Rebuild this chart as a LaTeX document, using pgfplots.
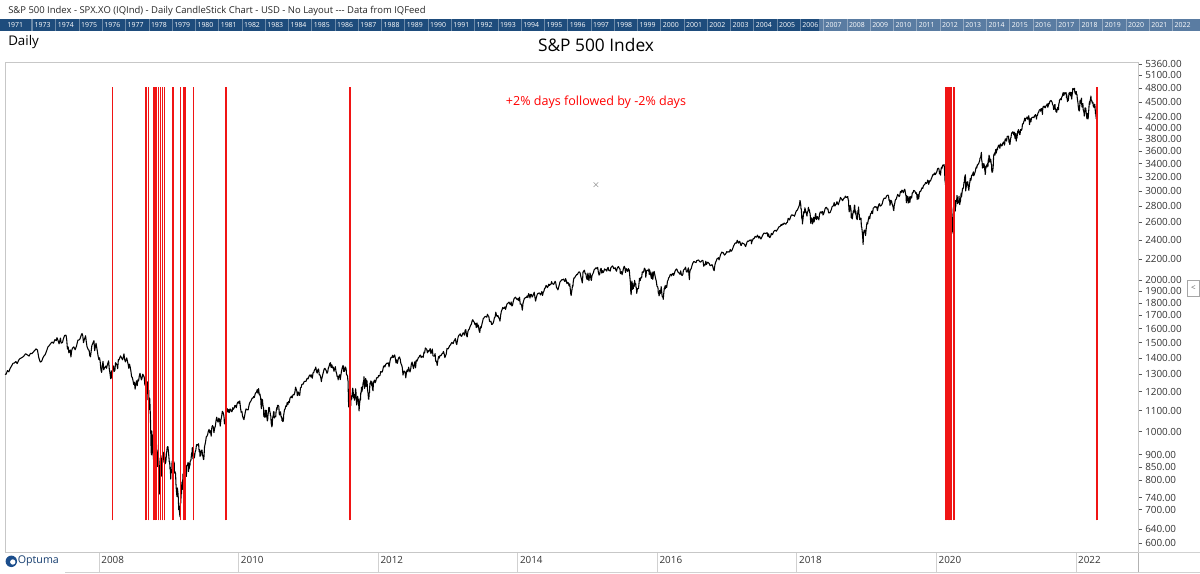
\documentclass[border=0pt]{standalone}
\usepackage{pgfplots}
\pgfplotsset{compat=1.18}
\usepackage{pgfplotstable}
\usepackage{fontspec}
\setmainfont{Open Sans}
\definecolor{banddark}{RGB}{30,76,124}
\definecolor{bandlight}{RGB}{90,124,162}
\definecolor{optblue}{RGB}{28,78,140}
\definecolor{sigred}{RGB}{240,20,20}

\pgfplotstableread{
x y
2006.675 1300
2006.69 1299
2006.71 1321
2006.73 1314
2006.75 1336
2006.77 1350
2006.79 1366
2006.81 1368
2006.83 1377
2006.85 1364
2006.87 1385
2006.89 1396
2006.91 1400
2006.94 1409
2006.97 1427
2007.00 1418
2007.02 1412
2007.04 1430
2007.06 1427
2007.08 1438
2007.10 1448
2007.12 1459
2007.14 1451
2007.16 1400
2007.18 1374
2007.20 1378
2007.22 1402
2007.24 1417
2007.25 1420
2007.27 1444
2007.29 1471
2007.31 1482
2007.33 1495
2007.35 1505
2007.37 1497
2007.39 1522
2007.41 1515
2007.42 1536
2007.44 1509
2007.45 1493
2007.47 1533
2007.48 1498
2007.50 1503
2007.51 1525
2007.53 1552
2007.55 1553
2007.56 1519
2007.57 1458
2007.58 1473
2007.59 1433
2007.61 1452
2007.62 1406
2007.63 1445
2007.64 1462
2007.66 1473
2007.68 1453
2007.70 1478
2007.72 1519
2007.73 1518
2007.75 1527
2007.77 1557
2007.78 1565
2007.79 1548
2007.80 1501
2007.81 1520
2007.83 1549
2007.84 1508
2007.85 1475
2007.87 1452
2007.88 1451
2007.89 1416
2007.90 1407
2007.92 1481
2007.94 1504
2007.95 1515
2007.96 1447
2007.98 1497
2007.99 1468
2008.01 1411
2008.02 1390
2008.03 1401
2008.04 1373
2008.05 1325
2008.06 1310
2008.07 1352
2008.08 1378
2008.09 1326
2008.10 1336
2008.12 1349
2008.13 1335
2008.14 1353
2008.16 1381
2008.17 1330
2008.18 1304
2008.19 1273
2008.20 1320
2008.21 1277
2008.22 1330
2008.23 1350
2008.24 1316
2008.25 1322
2008.26 1370
2008.28 1355
2008.29 1333
2008.30 1390
2008.31 1388
2008.33 1413
2008.35 1397
2008.36 1388
2008.37 1404
2008.38 1426
2008.39 1391
2008.40 1375
2008.42 1400
2008.43 1378
2008.44 1360
2008.45 1335
2008.46 1360
2008.47 1342
2008.48 1317
2008.49 1284
2008.50 1280
2008.51 1262
2008.52 1240
2008.53 1253
2008.54 1214
2008.55 1240
2008.56 1261
2008.57 1234
2008.58 1267
2008.59 1260
2008.60 1289
2008.61 1305
2008.62 1285
2008.63 1266
2008.64 1278
2008.65 1300
2008.67 1283
2008.68 1236
2008.69 1267
2008.70 1192
2008.71 1156
2008.72 1255
2008.73 1188
2008.735 1209
2008.74 1106
2008.745 1166
2008.75 1161
2008.755 1114
2008.76 1056
2008.765 985
2008.77 910
2008.775 899
2008.78 1003
2008.785 946
2008.79 907
2008.795 985
2008.80 896
2008.805 877
2008.81 848
2008.815 940
2008.82 954
2008.83 968
2008.835 966
2008.84 1005
2008.845 952
2008.85 905
2008.855 919
2008.86 852
2008.87 911
2008.875 873
2008.88 850
2008.885 806
2008.89 752
2008.895 800
2008.90 887
2008.905 870
2008.91 896
2008.92 816
2008.925 848
2008.93 876
2008.94 909
2008.945 888
2008.95 880
2008.955 869
2008.96 913
2008.965 885
2008.97 863
2008.98 870
2008.99 903
2009.00 931
2009.01 934
2009.02 906
2009.03 870
2009.035 872
2009.04 843
2009.045 850
2009.05 805
2009.055 840
2009.06 828
2009.065 831
2009.07 874
2009.075 845
2009.08 825
2009.09 838
2009.095 869
2009.10 870
2009.105 827
2009.11 833
2009.12 826
2009.125 789
2009.13 770
2009.135 754
2009.14 743
2009.145 773
2009.15 764
2009.155 753
2009.16 735
2009.165 700
2009.17 712
2009.175 696
2009.18 683
2009.185 677
2009.19 720
2009.195 722
2009.20 756
2009.205 753
2009.21 794
2009.215 784
2009.22 768
2009.225 823
2009.23 806
2009.235 832
2009.24 816
2009.245 788
2009.25 811
2009.255 834
2009.26 842
2009.27 835
2009.275 815
2009.28 857
2009.29 858
2009.30 869
2009.305 833
2009.31 851
2009.315 843
2009.32 866
2009.325 855
2009.33 873
2009.34 877
2009.35 907
2009.355 903
2009.36 930
2009.365 897
2009.37 883
2009.375 893
2009.38 904
2009.385 888
2009.39 887
2009.40 910
2009.41 919
2009.42 942
2009.43 943
2009.44 939
2009.45 946
2009.455 923
2009.46 911
2009.465 921
2009.47 893
2009.48 900
2009.49 918
2009.50 919
2009.505 896
2009.51 898
2009.52 880
2009.525 882
2009.53 905
2009.535 932
2009.54 940
2009.55 954
2009.56 976
2009.57 979
2009.58 987
2009.59 1002
2009.60 1010
2009.61 994
2009.62 1004
2009.63 979
2009.64 1020
2009.65 1028
2009.66 1021
2009.67 995
2009.68 1016
2009.69 1025
2009.70 1052
2009.71 1068
2009.72 1050
2009.73 1044
2009.74 1063
2009.75 1057
2009.76 1025
2009.77 1054
2009.78 1071
2009.79 1097
2009.80 1092
2009.81 1079
2009.815 1066
2009.82 1036
2009.83 1046
2009.84 1069
2009.85 1093
2009.86 1110
2009.87 1094
2009.88 1106
2009.885 1091
2009.89 1091
2009.90 1109
2009.91 1106
2009.92 1095
2009.93 1096
2009.94 1115
2009.95 1107
2009.96 1114
2009.97 1127
2009.98 1126
2009.99 1115
2010.00 1133
2010.01 1142
2010.02 1146
2010.03 1137
2010.04 1150
2010.05 1116
2010.06 1092
2010.07 1097
2010.08 1074
2010.09 1063
2010.10 1056
2010.11 1075
2010.12 1094
2010.13 1109
2010.14 1106
2010.16 1104
2010.17 1123
2010.18 1138
2010.19 1145
2010.20 1150
2010.21 1159
2010.22 1166
2010.23 1165
2010.24 1174
2010.25 1169
2010.26 1187
2010.27 1194
2010.28 1197
2010.29 1211
2010.30 1192
2010.31 1217
2010.32 1183
2010.33 1187
2010.335 1173
2010.34 1166
2010.345 1128
2010.35 1110
2010.355 1160
2010.36 1155
2010.365 1157
2010.37 1136
2010.375 1121
2010.38 1115
2010.385 1071
2010.39 1087
2010.395 1074
2010.40 1067
2010.405 1103
2010.41 1089
2010.415 1070
2010.42 1102
2010.43 1065
2010.435 1050
2010.44 1055
2010.445 1079
2010.45 1092
2010.455 1115
2010.46 1117
2010.465 1114
2010.47 1096
2010.475 1092
2010.48 1076
2010.485 1074
2010.49 1041
2010.495 1031
2010.50 1022
2010.505 1028
2010.51 1060
2010.515 1070
2010.52 1078
2010.525 1095
2010.53 1095
2010.535 1064
2010.54 1071
2010.55 1071
2010.555 1069
2010.56 1094
2010.565 1102
2010.57 1115
2010.575 1106
2010.58 1126
2010.59 1128
2010.60 1122
2010.605 1089
2010.61 1079
2010.615 1083
2010.62 1093
2010.625 1094
2010.63 1075
2010.635 1067
2010.64 1071
2010.645 1051
2010.65 1055
2010.655 1047
2010.66 1064
2010.665 1049
2010.67 1080
2010.675 1090
2010.68 1104
2010.69 1109
2010.70 1125
2010.71 1122
2010.72 1142
2010.73 1131
2010.74 1148
2010.75 1141
2010.76 1165
2010.77 1169
2010.78 1176
2010.79 1166
2010.80 1180
2010.81 1185
2010.82 1183
2010.83 1197
2010.84 1225
2010.85 1213
2010.86 1199
2010.865 1178
2010.87 1196
2010.88 1198
2010.89 1180
2010.90 1181
2010.91 1221
2010.92 1223
2010.93 1240
2010.94 1242
2010.95 1242
2010.96 1254
2010.97 1258
2010.99 1258
2011.00 1271
2011.01 1276
2011.02 1272
2011.03 1285
2011.04 1293
2011.05 1295
2011.06 1283
2011.07 1296
2011.08 1276
2011.09 1307
2011.10 1310
2011.11 1324
2011.12 1329
2011.13 1343
2011.14 1315
2011.15 1306
2011.16 1327
2011.17 1331
2011.18 1295
2011.19 1296
2011.20 1281
2011.21 1256
2011.215 1273
2011.22 1279
2011.23 1298
2011.24 1314
2011.25 1332
2011.26 1335
2011.27 1328
2011.28 1320
2011.29 1305
2011.30 1312
2011.31 1337
2011.32 1347
2011.33 1364
2011.34 1370
2011.345 1347
2011.35 1340
2011.36 1357
2011.37 1338
2011.38 1343
2011.39 1317
2011.40 1331
2011.41 1345
2011.42 1315
2011.43 1300
2011.435 1286
2011.44 1285
2011.445 1288
2011.45 1266
2011.455 1278
2011.46 1283
2011.47 1296
2011.475 1288
2011.48 1268
2011.49 1296
2011.50 1321
2011.51 1340
2011.52 1353
2011.525 1344
2011.53 1316
2011.54 1317
2011.545 1327
2011.55 1344
2011.56 1338
2011.565 1331
2011.57 1300
2011.58 1292
2011.585 1287
2011.59 1260
2011.593 1261
2011.595 1200
2011.597 1199
2011.60 1119
2011.603 1172
2011.607 1120
2011.61 1172
2011.613 1179
2011.617 1204
2011.62 1193
2011.625 1140
2011.63 1124
2011.635 1162
2011.64 1177
2011.645 1160
2011.65 1176
2011.655 1210
2011.66 1219
2011.665 1204
2011.67 1174
2011.675 1165
2011.68 1185
2011.685 1154
2011.69 1162
2011.695 1172
2011.70 1216
2011.705 1202
2011.71 1166
2011.715 1129
2011.72 1136
2011.725 1162
2011.73 1175
2011.735 1151
2011.74 1160
2011.745 1131
2011.75 1099
2011.755 1124
2011.76 1144
2011.765 1164
2011.77 1155
2011.775 1195
2011.78 1194
2011.785 1225
2011.79 1200
2011.795 1209
2011.80 1215
2011.805 1238
2011.81 1254
2011.815 1242
2011.82 1285
2011.825 1253
2011.83 1218
2011.835 1237
2011.84 1261
2011.845 1275
2011.85 1229
2011.855 1239
2011.86 1263
2011.865 1257
2011.87 1216
2011.875 1202
2011.88 1188
2011.885 1161
2011.89 1159
2011.895 1192
2011.90 1195
2011.905 1247
2011.91 1244
2011.92 1261
2011.93 1234
2011.935 1255
2011.94 1225
2011.945 1212
2011.95 1205
2011.955 1241
2011.96 1254
2011.97 1265
2011.98 1250
2011.99 1258
2012.00 1277
2012.01 1280
2012.02 1278
2012.03 1292
2012.04 1289
2012.05 1293
2012.06 1315
2012.07 1314
2012.08 1312
2012.09 1325
2012.10 1345
2012.11 1351
2012.12 1343
2012.13 1358
2012.14 1362
2012.15 1367
2012.16 1366
2012.17 1369
2012.18 1344
2012.19 1371
2012.20 1395
2012.21 1404
2012.22 1402
2012.23 1417
2012.24 1403
2012.25 1408
2012.26 1419
2012.27 1398
2012.28 1368
2012.29 1387
2012.30 1366
2012.31 1390
2012.32 1403
2012.33 1406
2012.34 1391
2012.35 1364
2012.36 1357
2012.37 1338
2012.38 1295
2012.39 1316
2012.40 1318
2012.41 1310
2012.42 1278
2012.43 1315
2012.44 1325
2012.45 1314
2012.46 1342
2012.47 1325
2012.48 1313
2012.49 1331
2012.50 1362
2012.51 1374
2012.52 1352
2012.53 1334
2012.54 1356
2012.55 1376
2012.56 1338
2012.57 1386
2012.58 1379
2012.59 1390
2012.60 1402
2012.61 1405
2012.62 1415
2012.63 1418
2012.64 1402
2012.65 1410
2012.66 1407
2012.67 1404
2012.68 1438
2012.69 1433
2012.70 1465
2012.71 1461
2012.72 1456
2012.73 1433
2012.74 1447
2012.75 1441
2012.76 1450
2012.77 1461
2012.78 1428
2012.79 1440
2012.80 1458
2012.81 1413
2012.82 1412
2012.83 1412
2012.84 1428
2012.845 1395
2012.85 1378
2012.86 1380
2012.87 1353
2012.88 1386
2012.89 1409
2012.90 1399
2012.91 1416
2012.92 1414
2012.93 1418
2012.94 1428
2012.95 1430
2012.96 1442
2012.97 1426
2012.98 1402
2013.00 1426
2013.01 1462
2013.02 1458
2013.03 1461
2013.04 1472
2013.05 1481
2013.06 1485
2013.07 1495
2013.08 1503
2013.09 1498
2013.10 1495
2013.11 1512
2013.12 1518
2013.13 1530
2013.14 1502
2013.15 1488
2013.16 1515
2013.17 1540
2013.18 1552
2013.19 1556
2013.20 1563
2013.21 1548
2013.22 1545
2013.23 1556
2013.24 1569
2013.25 1570
2013.26 1553
2013.27 1588
2013.28 1593
2013.29 1552
2013.30 1541
2013.31 1578
2013.32 1593
2013.33 1597
2013.34 1614
2013.35 1626
2013.36 1633
2013.37 1658
2013.38 1667
2013.39 1655
2013.40 1650
2013.41 1631
2013.42 1640
2013.43 1608
2013.44 1643
2013.45 1612
2013.46 1626
2013.47 1588
2013.48 1573
2013.49 1613
2013.50 1606
2013.51 1631
2013.52 1652
2013.53 1675
2013.54 1680
2013.55 1689
2013.56 1692
2013.57 1690
2013.58 1686
2013.59 1709
2013.60 1697
2013.61 1691
2013.62 1655
2013.63 1652
2013.64 1656
2013.65 1631
2013.66 1633
2013.67 1640
2013.68 1655
2013.69 1683
2013.70 1688
2013.71 1725
2013.72 1701
2013.73 1692
2013.74 1699
2013.75 1682
2013.76 1676
2013.77 1656
2013.78 1703
2013.79 1733
2013.80 1746
2013.81 1763
2013.82 1754
2013.83 1757
2013.84 1767
2013.85 1747
2013.86 1771
2013.87 1791
2013.88 1796
2013.89 1802
2013.90 1806
2013.91 1792
2013.92 1785
2013.93 1808
2013.94 1775
2013.95 1781
2013.96 1810
2013.97 1833
2013.98 1842
2013.99 1848
2014.01 1832
2014.02 1826
2014.03 1838
2014.04 1819
2014.05 1848
2014.06 1790
2014.07 1792
2014.08 1782
2014.09 1741
2014.10 1797
2014.11 1819
2014.12 1838
2014.13 1840
2014.14 1847
2014.15 1845
2014.16 1859
2014.17 1845
2014.18 1878
2014.19 1867
2014.20 1841
2014.21 1872
2014.22 1872
2014.23 1849
2014.24 1857
2014.25 1872
2014.26 1890
2014.27 1851
2014.28 1815
2014.29 1842
2014.30 1864
2014.31 1879
2014.32 1878
2014.33 1884
2014.34 1881
2014.35 1867
2014.36 1878
2014.37 1897
2014.38 1862
2014.39 1888
2014.40 1900
2014.41 1924
2014.42 1927
2014.43 1950
2014.44 1943
2014.45 1930
2014.46 1942
2014.47 1962
2014.48 1950
2014.49 1958
2014.50 1960
2014.51 1985
2014.52 1963
2014.53 1964
2014.54 1959
2014.55 1974
2014.56 1987
2014.57 1970
2014.58 1931
2014.59 1925
2014.60 1910
2014.61 1933
2014.62 1955
2014.63 1981
2014.64 1988
2014.65 1997
2014.66 2003
2014.67 2000
2014.68 2007
2014.69 1995
2014.70 1985
2014.71 2011
2014.72 1994
2014.73 1965
2014.74 1977
2014.75 1972
2014.76 1946
2014.77 1964
2014.775 1928
2014.78 1906
2014.785 1874
2014.79 1862
2014.795 1886
2014.80 1904
2014.805 1927
2014.81 1950
2014.815 1941
2014.82 1982
2014.83 2018
2014.84 2017
2014.85 2031
2014.86 2039
2014.87 2050
2014.88 2048
2014.89 2064
2014.90 2072
2014.91 2074
2014.92 2060
2014.93 2026
2014.94 2002
2014.95 1972
2014.955 2012
2014.96 2070
2014.97 2082
2014.98 2090
2014.99 2059
2015.00 2058
2015.01 2020
2015.02 2002
2015.03 2062
2015.035 2044
2015.04 2011
2015.045 1992
2015.05 2019
2015.055 2022
2015.06 2063
2015.065 2051
2015.07 2029
2015.075 2002
2015.08 1995
2015.085 2021
2015.09 2041
2015.10 2055
2015.11 2068
2015.12 2096
2015.13 2100
2015.14 2110
2015.15 2113
2015.16 2105
2015.17 2117
2015.18 2071
2015.19 2044
2015.20 2053
2015.21 2099
2015.22 2108
2015.23 2061
2015.24 2086
2015.25 2068
2015.26 2081
2015.27 2102
2015.28 2092
2015.29 2095
2015.30 2081
2015.31 2107
2015.32 2117
2015.33 2086
2015.34 2089
2015.35 2081
2015.36 2116
2015.37 2121
2015.38 2131
2015.39 2126
2015.40 2104
2015.41 2107
2015.42 2114
2015.43 2092
2015.44 2080
2015.45 2108
2015.46 2121
2015.47 2124
2015.48 2108
2015.49 2101
2015.495 2057
2015.50 2063
2015.51 2077
2015.515 2068
2015.52 2047
2015.53 2076
2015.54 2108
2015.55 2128
2015.56 2114
2015.57 2068
2015.575 2093
2015.58 2104
2015.59 2093
2015.60 2078
2015.61 2105
2015.615 2086
2015.62 2097
2015.625 2079
2015.63 2036
2015.64 1971
2015.645 1893
2015.65 1868
2015.655 1940
2015.66 1989
2015.665 1972
2015.67 1914
2015.675 1949
2015.68 1921
2015.69 1969
2015.695 1942
2015.70 1996
2015.705 1958
2015.71 1958
2015.715 1967
2015.72 1932
2015.725 1931
2015.73 1881
2015.74 1921
2015.75 1920
2015.755 1923
2015.76 1951
2015.77 2014
2015.775 2003
2015.78 1994
2015.79 2023
2015.80 2018
2015.81 2075
2015.82 2066
2015.83 2079
2015.84 2109
2015.85 2100
2015.855 2081
2015.86 2023
2015.865 2053
2015.87 2083
2015.88 2089
2015.89 2090
2015.90 2080
2015.905 2103
2015.91 2049
2015.915 2091
2015.92 2077
2015.925 2063
2015.93 2047
2015.94 2012
2015.945 2022
2015.95 2073
2015.955 2041
2015.96 2005
2015.965 2021
2015.97 2064
2015.98 2078
2015.99 2044
2016.00 2012
2016.01 1990
2016.02 1943
2016.03 1938
2016.035 1923
2016.04 1880
2016.045 1890
2016.05 1859
2016.055 1869
2016.06 1907
2016.065 1877
2016.07 1882
2016.075 1893
2016.08 1940
2016.085 1913
2016.09 1880
2016.095 1853
2016.10 1852
2016.105 1851
2016.11 1829
2016.115 1865
2016.12 1895
2016.125 1927
2016.13 1917
2016.135 1945
2016.14 1921
2016.15 1951
2016.16 1932
2016.17 1986
2016.18 1999
2016.19 2022
2016.20 2027
2016.21 2049
2016.22 2051
2016.23 2037
2016.24 2055
2016.25 2060
2016.26 2041
2016.27 2061
2016.28 2082
2016.29 2094
2016.30 2102
2016.31 2092
2016.32 2075
2016.33 2065
2016.34 2063
2016.35 2051
2016.36 2084
2016.37 2047
2016.38 2040
2016.39 2048
2016.40 2090
2016.41 2097
2016.42 2105
2016.43 2119
2016.44 2079
2016.45 2071
2016.46 2089
2016.47 2113
2016.48 2037
2016.485 2001
2016.49 2071
2016.50 2099
2016.51 2102
2016.52 2130
2016.53 2152
2016.54 2166
2016.55 2175
2016.56 2169
2016.57 2167
2016.58 2164
2016.59 2183
2016.60 2185
2016.61 2190
2016.62 2187
2016.63 2175
2016.64 2169
2016.65 2171
2016.66 2180
2016.67 2186
2016.68 2182
2016.69 2128
2016.70 2147
2016.71 2139
2016.72 2177
2016.73 2146
2016.74 2160
2016.75 2168
2016.76 2160
2016.77 2153
2016.78 2136
2016.79 2133
2016.80 2141
2016.81 2143
2016.82 2126
2016.83 2097
2016.84 2085
2016.85 2139
2016.86 2167
2016.87 2180
2016.88 2202
2016.89 2204
2016.90 2213
2016.91 2191
2016.92 2212
2016.93 2241
2016.94 2256
2016.95 2271
2016.96 2262
2016.97 2264
2016.98 2249
2016.99 2239
2017.01 2258
2017.02 2276
2017.03 2269
2017.04 2274
2017.05 2271
2017.06 2272
2017.07 2298
2017.08 2279
2017.09 2281
2017.10 2297
2017.11 2316
2017.12 2337
2017.13 2351
2017.14 2365
2017.15 2369
2017.16 2364
2017.17 2396
2017.18 2376
2017.19 2365
2017.20 2385
2017.21 2378
2017.22 2344
2017.23 2341
2017.24 2368
2017.25 2363
2017.26 2360
2017.27 2355
2017.28 2344
2017.29 2328
2017.30 2349
2017.31 2374
2017.32 2388
2017.33 2384
2017.34 2390
2017.35 2399
2017.36 2394
2017.37 2402
2017.375 2357
2017.38 2382
2017.39 2394
2017.40 2415
2017.41 2412
2017.42 2430
2017.43 2439
2017.44 2431
2017.45 2432
2017.46 2453
2017.47 2438
2017.48 2419
2017.49 2440
2017.50 2423
2017.51 2410
2017.52 2425
2017.53 2443
2017.54 2459
2017.55 2473
2017.56 2477
2017.57 2473
2017.58 2470
2017.59 2477
2017.60 2480
2017.61 2438
2017.62 2468
2017.63 2430
2017.64 2426
2017.65 2444
2017.66 2472
2017.67 2458
2017.68 2465
2017.69 2488
2017.70 2500
2017.71 2506
2017.72 2508
2017.73 2497
2017.74 2510
2017.75 2519
2017.76 2537
2017.77 2549
2017.78 2550
2017.79 2557
2017.80 2575
2017.81 2564
2017.82 2581
2017.83 2575
2017.84 2590
2017.85 2591
2017.86 2578
2017.87 2582
2017.88 2599
2017.89 2601
2017.90 2648
2017.91 2642
2017.92 2629
2017.93 2652
2017.94 2676
2017.95 2690
2017.96 2690
2017.97 2683
2017.98 2687
2017.99 2674
2018.00 2695
2018.01 2724
2018.02 2743
2018.03 2748
2018.04 2767
2018.05 2786
2018.06 2810
2018.065 2833
2018.07 2873
2018.075 2853
2018.08 2823
2018.085 2762
2018.09 2762
2018.095 2649
2018.10 2681
2018.105 2581
2018.11 2620
2018.115 2656
2018.12 2698
2018.125 2731
2018.13 2732
2018.135 2716
2018.14 2780
2018.15 2744
2018.16 2714
2018.165 2691
2018.17 2677
2018.175 2720
2018.18 2728
2018.185 2738
2018.19 2786
2018.195 2765
2018.20 2748
2018.205 2752
2018.21 2717
2018.215 2711
2018.22 2644
2018.225 2588
2018.23 2658
2018.235 2612
2018.24 2640
2018.245 2641
2018.25 2582
2018.255 2614
2018.26 2644
2018.265 2662
2018.27 2604
2018.275 2614
2018.28 2657
2018.285 2642
2018.29 2693
2018.295 2708
2018.30 2670
2018.305 2634
2018.31 2639
2018.32 2669
2018.33 2648
2018.335 2654
2018.34 2630
2018.345 2663
2018.35 2697
2018.36 2724
2018.37 2728
2018.38 2712
2018.39 2733
2018.395 2727
2018.40 2689
2018.41 2705
2018.42 2735
2018.43 2770
2018.44 2782
2018.45 2786
2018.46 2762
2018.47 2767
2018.48 2717
2018.49 2716
2018.50 2718
2018.51 2737
2018.52 2759
2018.53 2793
2018.54 2801
2018.55 2804
2018.56 2846
2018.57 2802
2018.58 2816
2018.59 2827
2018.60 2858
2018.61 2833
2018.62 2818
2018.63 2850
2018.64 2875
2018.65 2914
2018.66 2902
2018.67 2888
2018.68 2871
2018.69 2888
2018.70 2905
2018.71 2905
2018.72 2931
2018.73 2915
2018.74 2914
2018.75 2924
2018.755 2925
2018.76 2885
2018.765 2880
2018.77 2785
2018.775 2728
2018.78 2767
2018.785 2751
2018.79 2809
2018.795 2785
2018.80 2768
2018.805 2656
2018.81 2705
2018.815 2658
2018.82 2641
2018.825 2682
2018.83 2711
2018.835 2740
2018.84 2723
2018.845 2755
2018.85 2813
2018.855 2807
2018.86 2726
2018.865 2701
2018.87 2737
2018.875 2690
2018.88 2649
2018.885 2641
2018.89 2633
2018.895 2673
2018.90 2743
2018.905 2738
2018.91 2790
2018.915 2700
2018.92 2695
2018.925 2633
2018.93 2637
2018.935 2636
2018.94 2651
2018.945 2650
2018.95 2546
2018.955 2545
2018.96 2507
2018.965 2467
2018.97 2416
2018.975 2351
2018.98 2467
2018.985 2488
2018.99 2507
2019.00 2510
2019.01 2448
2019.02 2532
2019.03 2596
2019.04 2583
2019.05 2635
2019.06 2671
2019.07 2643
2019.08 2704
2019.09 2707
2019.10 2738
2019.11 2706
2019.12 2775
2019.13 2780
2019.14 2793
2019.15 2793
2019.16 2784
2019.17 2792
2019.18 2743
2019.19 2784
2019.20 2822
2019.21 2832
2019.22 2801
2019.23 2805
2019.24 2815
2019.25 2834
2019.26 2873
2019.27 2895
2019.28 2907
2019.29 2900
2019.30 2905
2019.31 2933
2019.32 2939
2019.33 2946
2019.34 2932
2019.345 2884
2019.35 2870
2019.355 2881
2019.36 2812
2019.365 2834
2019.37 2859
2019.375 2876
2019.38 2864
2019.385 2856
2019.39 2823
2019.395 2826
2019.40 2802
2019.405 2788
2019.41 2752
2019.415 2744
2019.42 2803
2019.43 2843
2019.435 2873
2019.44 2886
2019.45 2892
2019.46 2926
2019.47 2954
2019.48 2945
2019.49 2924
2019.50 2942
2019.51 2996
2019.52 2980
2019.53 3013
2019.54 3004
2019.55 2977
2019.56 3005
2019.57 3025
2019.575 3013
2019.58 2980
2019.585 2953
2019.59 2932
2019.595 2844
2019.60 2938
2019.605 2918
2019.61 2883
2019.615 2926
2019.62 2840
2019.625 2848
2019.63 2888
2019.635 2900
2019.64 2922
2019.645 2847
2019.65 2887
2019.655 2924
2019.66 2926
2019.67 2906
2019.68 2976
2019.69 2979
2019.70 3009
2019.71 3006
2019.72 2992
2019.73 2966
2019.74 2977
2019.745 2940
2019.75 2887
2019.755 2910
2019.76 2952
2019.765 2938
2019.77 2893
2019.775 2919
2019.78 2970
2019.79 2998
2019.80 2995
2019.81 3022
2019.82 3046
2019.83 3037
2019.84 3078
2019.85 3085
2019.86 3093
2019.87 3120
2019.88 3108
2019.89 3110
2019.90 3153
2019.91 3141
2019.915 3093
2019.92 3113
2019.93 3145
2019.94 3141
2019.95 3168
2019.96 3192
2019.97 3221
2019.98 3240
2019.99 3231
2020.00 3258
2020.01 3235
2020.02 3253
2020.03 3275
2020.035 3289
2020.04 3317
2020.05 3330
2020.055 3321
2020.06 3326
2020.065 3295
2020.07 3244
2020.075 3276
2020.08 3283
2020.085 3226
2020.09 3297
2020.095 3334
2020.10 3345
2020.105 3328
2020.11 3352
2020.115 3374
2020.12 3380
2020.125 3371
2020.13 3370
2020.135 3386
2020.14 3338
2020.145 3226
2020.15 3128
2020.155 3116
2020.16 2979
2020.163 2954
2020.167 3090
2020.17 3003
2020.173 3130
2020.176 3024
2020.18 2972
2020.185 2746
2020.188 2882
2020.19 2741
2020.194 2481
2020.197 2711
2020.205 2386
2020.208 2529
2020.21 2398
2020.213 2409
2020.216 2305
2020.222 2237
2020.225 2447
2020.228 2476
2020.23 2630
2020.233 2541
2020.24 2627
2020.243 2585
2020.246 2471
2020.25 2527
2020.253 2489
2020.26 2664
2020.262 2659
2020.265 2749
2020.27 2790
2020.275 2762
2020.28 2846
2020.285 2783
2020.287 2800
2020.29 2875
2020.292 2823
2020.295 2737
2020.30 2799
2020.303 2798
2020.306 2837
2020.31 2878
2020.315 2863
2020.32 2940
2020.325 2912
2020.33 2831
2020.335 2843
2020.34 2868
2020.345 2849
2020.35 2930
2020.355 2870
2020.36 2820
2020.365 2852
2020.37 2864
2020.38 2972
2020.385 2923
2020.39 2955
2020.40 3036
2020.405 3029
2020.41 3044
2020.415 3055
2020.42 3122
2020.425 3112
2020.43 3193
2020.44 3232
2020.443 3190
2020.445 3002
2020.45 3041
2020.455 3066
2020.46 3124
2020.465 3113
2020.47 3117
2020.475 3131
2020.48 3050
2020.485 3083
2020.49 3009
2020.495 3053
2020.50 3100
2020.505 3130
2020.51 3179
2020.515 3145
2020.52 3152
2020.525 3185
2020.53 3226
2020.54 3224
2020.55 3257
2020.555 3276
2020.56 3216
2020.57 3239
2020.575 3258
2020.58 3271
2020.585 3294
2020.59 3327
2020.60 3351
2020.605 3333
2020.61 3380
2020.615 3373
2020.62 3390
2020.63 3397
2020.64 3431
2020.645 3443
2020.65 3484
2020.66 3500
2020.67 3580
2020.675 3455
2020.68 3426
2020.685 3332
2020.69 3399
2020.695 3339
2020.70 3340
2020.705 3401
2020.71 3385
2020.715 3357
2020.72 3281
2020.723 3315
2020.725 3237
2020.728 3246
2020.73 3298
2020.735 3351
2020.74 3363
2020.745 3380
2020.75 3348
2020.76 3408
2020.765 3361
2020.77 3477
2020.775 3419
2020.78 3534
2020.785 3511
2020.79 3483
2020.795 3426
2020.80 3453
2020.805 3465
2020.81 3400
2020.815 3391
2020.82 3271
2020.825 3310
2020.83 3270
2020.835 3310
2020.84 3369
2020.845 3510
2020.85 3550
2020.855 3545
2020.86 3572
2020.865 3537
2020.87 3585
2020.875 3627
2020.88 3567
2020.885 3577
2020.89 3635
2020.895 3638
2020.90 3622
2020.905 3662
2020.91 3667
2020.915 3699
2020.92 3691
2020.925 3702
2020.93 3668
2020.935 3647
2020.94 3694
2020.945 3722
2020.95 3709
2020.955 3694
2020.96 3687
2020.965 3690
2020.97 3703
2020.975 3735
2020.98 3727
2020.99 3756
2021.00 3700
2021.005 3726
2021.01 3804
2021.015 3799
2021.02 3809
2021.025 3801
2021.03 3768
2021.035 3798
2021.04 3852
2021.045 3853
2021.05 3855
2021.055 3849
2021.06 3855
2021.065 3750
2021.07 3787
2021.075 3714
2021.08 3714
2021.085 3773
2021.09 3826
2021.095 3830
2021.10 3887
2021.105 3916
2021.11 3911
2021.115 3909
2021.12 3934
2021.125 3932
2021.13 3906
2021.135 3876
2021.14 3881
2021.145 3925
2021.15 3829
2021.155 3811
2021.16 3811
2021.165 3901
2021.17 3768
2021.175 3841
2021.18 3821
2021.185 3875
2021.19 3939
2021.195 3943
2021.20 3974
2021.205 3915
2021.21 3913
2021.215 3940
2021.22 3881
2021.225 3889
2021.23 3974
2021.235 3971
2021.24 3958
2021.25 3973
2021.26 4078
2021.265 4073
2021.27 4080
2021.28 4128
2021.285 4141
2021.29 4185
2021.295 4163
2021.30 4134
2021.305 4173
2021.31 4180
2021.315 4187
2021.32 4186
2021.325 4211
2021.33 4181
2021.335 4164
2021.34 4192
2021.345 4201
2021.35 4233
2021.355 4152
2021.36 4063
2021.365 4112
2021.37 4174
2021.375 4163
2021.38 4116
2021.385 4159
2021.39 4188
2021.395 4195
2021.40 4200
2021.41 4204
2021.415 4202
2021.42 4208
2021.425 4192
2021.43 4229
2021.435 4227
2021.44 4247
2021.445 4255
2021.45 4223
2021.455 4221
2021.46 4166
2021.465 4224
2021.47 4246
2021.475 4241
2021.48 4281
2021.485 4290
2021.49 4298
2021.495 4319
2021.50 4343
2021.51 4352
2021.515 4358
2021.52 4320
2021.525 4369
2021.53 4369
2021.535 4374
2021.54 4327
2021.545 4258
2021.55 4367
2021.555 4411
2021.56 4411
2021.565 4422
2021.57 4400
2021.575 4419
2021.58 4395
2021.585 4387
2021.59 4402
2021.595 4429
2021.60 4432
2021.605 4436
2021.61 4460
2021.615 4468
2021.62 4400
2021.625 4406
2021.63 4441
2021.635 4479
2021.64 4486
2021.645 4470
2021.65 4509
2021.655 4528
2021.66 4523
2021.665 4537
2021.67 4536
2021.675 4520
2021.68 4514
2021.685 4493
2021.69 4459
2021.695 4443
2021.70 4432
2021.705 4357
2021.71 4358
2021.715 4395
2021.72 4449
2021.725 4455
2021.73 4352
2021.735 4360
2021.74 4308
2021.745 4357
2021.75 4300
2021.755 4345
2021.76 4363
2021.765 4399
2021.77 4361
2021.775 4350
2021.78 4471
2021.785 4486
2021.79 4544
2021.795 4549
2021.80 4566
2021.81 4575
2021.815 4551
2021.82 4605
2021.825 4613
2021.83 4630
2021.835 4660
2021.84 4697
2021.845 4701
2021.85 4646
2021.855 4650
2021.86 4683
2021.865 4700
2021.87 4705
2021.875 4682
2021.88 4691
2021.885 4701
2021.89 4595
2021.895 4655
2021.90 4567
2021.905 4513
2021.91 4577
2021.915 4538
2021.92 4591
2021.925 4686
2021.93 4701
2021.935 4667
2021.94 4712
2021.945 4668
2021.95 4634
2021.955 4709
2021.96 4620
2021.965 4568
2021.97 4649
2021.975 4696
2021.98 4791
2021.985 4793
2021.99 4766
2022.005 4797
2022.01 4700
2022.015 4696
2022.02 4670
2022.025 4713
2022.03 4726
2022.035 4659
2022.04 4662
2022.045 4577
2022.05 4532
2022.055 4483
2022.06 4398
2022.065 4356
2022.07 4327
2022.075 4326
2022.08 4432
2022.083 4516
2022.085 4546
2022.09 4478
2022.095 4500
2022.10 4521
2022.105 4588
2022.11 4418
2022.115 4401
2022.12 4471
2022.125 4475
2022.13 4349
2022.14 4305
2022.145 4225
2022.15 4288
2022.155 4385
2022.16 4374
2022.165 4387
2022.17 4329
2022.175 4259
2022.18 4201
2022.185 4170
2022.19 4278
2022.195 4204
2022.20 4173
2022.205 4262
2022.21 4357
2022.215 4463
2022.22 4511
2022.225 4456
2022.23 4543
2022.235 4575
2022.24 4631
2022.245 4530
2022.25 4546
2022.255 4525
2022.26 4481
2022.265 4500
2022.27 4488
2022.275 4412
2022.28 4446
2022.285 4392
2022.29 4391
2022.295 4462
2022.30 4393
2022.305 4272
2022.31 4296
2022.315 4175
2022.32 4287
2022.325 4132
}\spx

\begin{document}
\begin{tikzpicture}[x=1pt,y=1pt]
\path[use as bounding box, fill=white] (0,0) rectangle (900,430.5);
% title line
\node[anchor=west, inner sep=0, font=\fontsize{7.1}{8}\selectfont, text=black!85] at (6,422.25)
  {S\&P 500 Index - SPX.XO (IQInd) - Daily CandleStick Chart - USD - No Layout \mbox{-}\mbox{-}\mbox{-} Data from IQFeed};
% year band
\fill[banddark] (0,407.0) rectangle (614.25,416.0);
\fill[bandlight] (614.25,407.0) rectangle (900,416.0);
\node[anchor=west, inner sep=0, font=\fontsize{5.2}{6}\selectfont, text=white] at (5.25,411.5) {1971};
\draw[white, opacity=0.35, line width=0.3pt] (23.2,407.0) -- (23.2,416.0);
\foreach \yr in {1973,...,2022}{
  \pgfmathsetmacro\xx{25.8+(\yr-1973)*17.45}
  \node[anchor=west, inner sep=0, font=\fontsize{5.2}{6}\selectfont, text=white] at (\xx,411.5) {\yr};
  \draw[white, opacity=0.35, line width=0.3pt] (\xx-1.5,407.0) -- (\xx-1.5,416.0);
}
% header texts
\node[anchor=west, inner sep=0, font=\fontsize{10}{12}\selectfont, text=black] at (6,399.0) {Daily};
\node[inner sep=0, font=\fontsize{13}{15}\selectfont, text=black] at (447,396.75) {S\&P 500 Index};

\begin{axis}[
  at={(3.75pt,16.5pt)}, anchor=south west,
  scale only axis, width=849.75pt, height=367.5pt,
  xmin=2006.675, xmax=2022.915,
  ymode=log, ymin=577, ymax=5410,
  axis line style={draw=black!22, line width=0.6pt},
  tick align=outside,
  ytick={600,640,700,740,800,850,900,1000,1100,1200,1300,1400,1500,1600,1700,1800,1900,2000,2200,2400,2600,2800,3000,3200,3400,3600,3800,4000,4200,4500,4800,5100,5360},
  yticklabels={600.00,640.00,700.00,740.00,800.00,850.00,900.00,1000.00,1100.00,1200.00,1300.00,1400.00,1500.00,1600.00,1700.00,1800.00,1900.00,2000.00,2200.00,2400.00,2600.00,2800.00,3000.00,3200.00,3400.00,3600.00,3800.00,4000.00,4200.00,4500.00,4800.00,5100.00,5360.00},
  ytick pos=right, yticklabel pos=right,
  ytick style={draw=black!65, line width=0.5pt, /pgfplots/major tick length=3pt},
  yticklabel style={font=\fontsize{7.4}{8}\selectfont, text=black!80, anchor=west, inner sep=0, xshift=1pt},
  xtick={2008.025,2010.025,2012.025,2014.025,2016.025,2018.025,2020.025,2022.025},
  xticklabels={2008,2010,2012,2014,2016,2018,2020,2022},
  xtick pos=lower,
  xtick style={draw=black!18, line width=0.6pt, /pgfplots/major tick length=15pt},
  xticklabel style={font=\fontsize{7.4}{8}\selectfont, text=black!80, anchor=west, inner sep=0, xshift=1.5pt, yshift=-1.5pt},
  minor tick num=0,
  log basis y=10,
  /pgf/number format/assume math mode=true,
  clip=true,
  unbounded coords=jump,
]
\addplot[black, line width=0.8pt, line join=round] table[x=x,y=y]{\spx};
\addplot[draw=sigred, line width=1.2pt, unbounded coords=jump, mark=none] coordinates {
(2008.218,666.79) (2008.218,4818.62) (2008.218,nan)
(2008.694,666.79) (2008.694,4818.62) (2008.694,nan)
(2008.731,666.79) (2008.731,4818.62) (2008.731,nan)
(2008.809,666.79) (2008.809,4818.62) (2008.809,nan)
(2008.842,666.79) (2008.842,4818.62) (2008.842,nan)
(2008.875,666.79) (2008.875,4818.62) (2008.875,nan)
(2008.906,666.79) (2008.906,4818.62) (2008.906,nan)
(2008.932,666.79) (2008.932,4818.62) (2008.932,nan)
(2008.961,666.79) (2008.961,4818.62) (2008.961,nan)
(2009.085,666.79) (2009.085,4818.62) (2009.085,nan)
(2009.190,666.79) (2009.190,4818.62) (2009.190,nan)
(2009.233,666.79) (2009.233,4818.62) (2009.233,nan)
(2009.257,666.79) (2009.257,4818.62) (2009.257,nan)
(2009.379,666.79) (2009.379,4818.62) (2009.379,nan)
(2009.842,666.79) (2009.842,4818.62) (2009.842,nan)
(2011.617,666.79) (2011.617,4818.62) (2011.617,nan)
(2020.155,666.79) (2020.155,4818.62) (2020.155,nan)
(2020.178,666.79) (2020.178,4818.62) (2020.178,nan)
(2020.198,666.79) (2020.198,4818.62) (2020.198,nan)
(2020.221,666.79) (2020.221,4818.62) (2020.221,nan)
(2020.241,666.79) (2020.241,4818.62) (2020.241,nan)
(2020.279,666.79) (2020.279,4818.62) (2020.279,nan)
(2022.327,666.79) (2022.327,4818.62)
};
\end{axis}

% annotations
\node[inner sep=0, font=\fontsize{9.4}{11}\selectfont, text=red] at (447,354) {+2\% days followed by -2\% days};
\node[inner sep=0, font=\fontsize{7}{8}\selectfont, text=black!60] at (447,291.75) {$\times$};
% bottom strip
\draw[black!18, line width=0.6pt] (48.75,1.2) -- (900,1.2);
\draw[black!30, line width=0.6pt] (853.5,1.2) -- (853.5,16.5);
\draw[black!18, line width=0.6pt] (853.5,16.5) -- (900,16.5);
% logo
\fill[optblue] (8.5,9.5) circle (4.3);
\fill[white] (9.6,9.0) circle (2.0);
\node[anchor=west, inner sep=0, font=\fontsize{8}{9}\selectfont, text=optblue!80!black] at (13.2,9.5) {Optuma};
% scroll button
\draw[black!35, line width=0.5pt, fill=white] (890.5,208.5) rectangle (899.5,220.5);
\node[inner sep=0, font=\fontsize{6}{7}\selectfont, text=black!60] at (895,214.5) {<};
\end{tikzpicture}
\end{document}
